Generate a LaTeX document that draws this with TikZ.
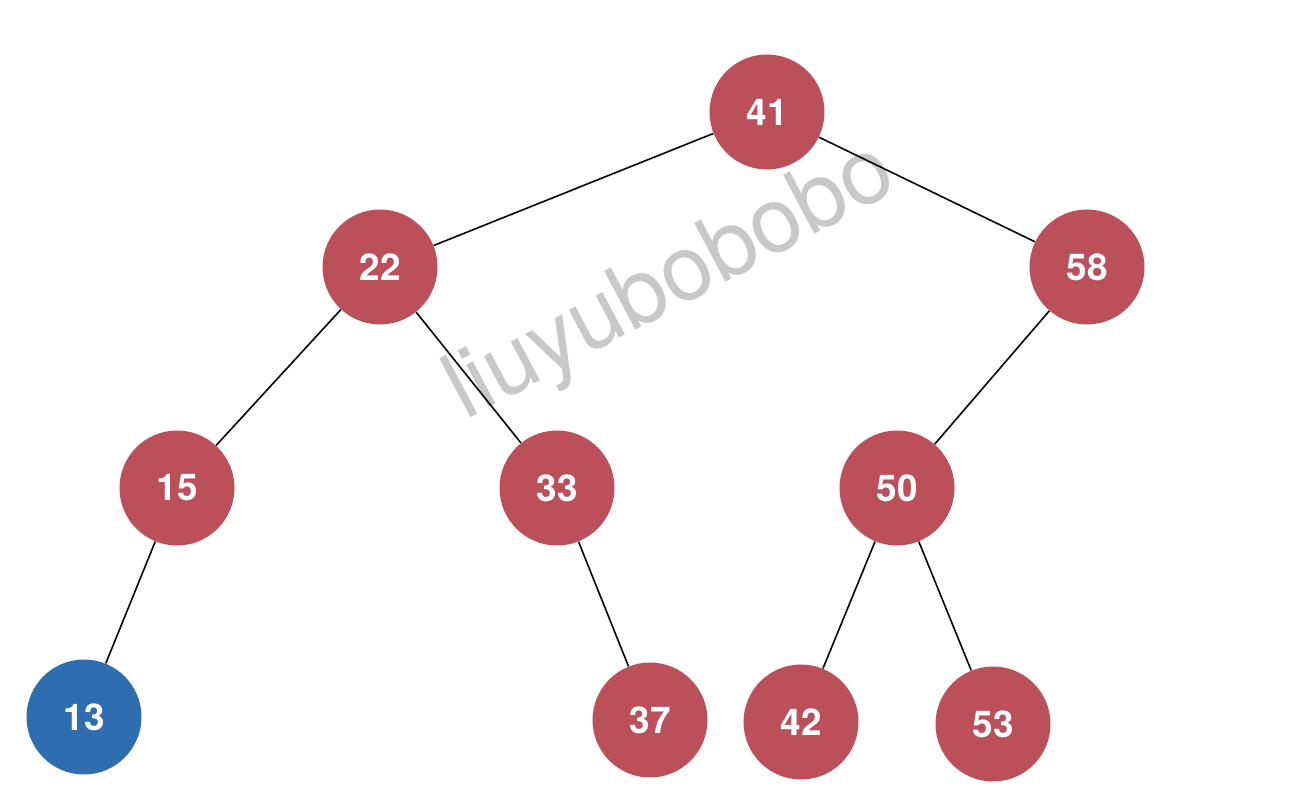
\documentclass[tikz,border=0pt]{standalone}
\usepackage{fontspec}
\setmainfont{TeX Gyre Heros}
\usepackage{tikz}
\definecolor{nodered}{RGB}{188,80,90}
\definecolor{nodeblue}{RGB}{46,109,175}
\definecolor{markgray}{RGB}{200,200,200}
\tikzset{
    every node/.style={font=\bfseries\fontsize{21}{25}\selectfont, text=white}, % white bold numbers
    tree/.style={circle, fill=nodered, minimum size=2.3cm, inner sep=0pt}, % sets the properties for each tree node
    found/.style={tree, fill=nodeblue}, % the highlighted node
    link/.style={black, line width=0.9pt}, % the edges of the tree
}

\begin{document}
\begin{tikzpicture}[x=0.02cm, y=-0.02cm
                  ]
                  \useasboundingbox (0,0) rectangle (1308,800);
                  \node[rotate=28, text=markgray, font=\fontsize{52}{60}\selectfont] (mark) at (672,284) {liuyubobobo};
                  \node[tree] (n41) at (767,112) {41};
                  \node[tree] (n22) at (380,267) {22};
                  \node[tree] (n58) at (1087,267) {58};
                  \node[tree] (n15) at (177,488) {15};
                  \node[tree] (n33) at (557,488) {33};
                  \node[tree] (n50) at (897,488) {50};
                  \node[found] (n13) at (84,717) {13};
                  \node[tree] (n37) at (650,720) {37};
                  \node[tree] (n42) at (801,722) {42};
                  \node[tree] (n53) at (993,724) {53};
                  \draw[link]
                  (n41) edge (n22)
                  (n41) edge (n58)
                  (n22) edge (n15)
                  (n22) edge (n33)
                  (n58) edge (n50)
                  (n15) edge (n13)
                  (n33) edge (n37)
                  (n50) edge (n42)
                  (n50) edge (n53);
              \end{tikzpicture}
\end{document}
